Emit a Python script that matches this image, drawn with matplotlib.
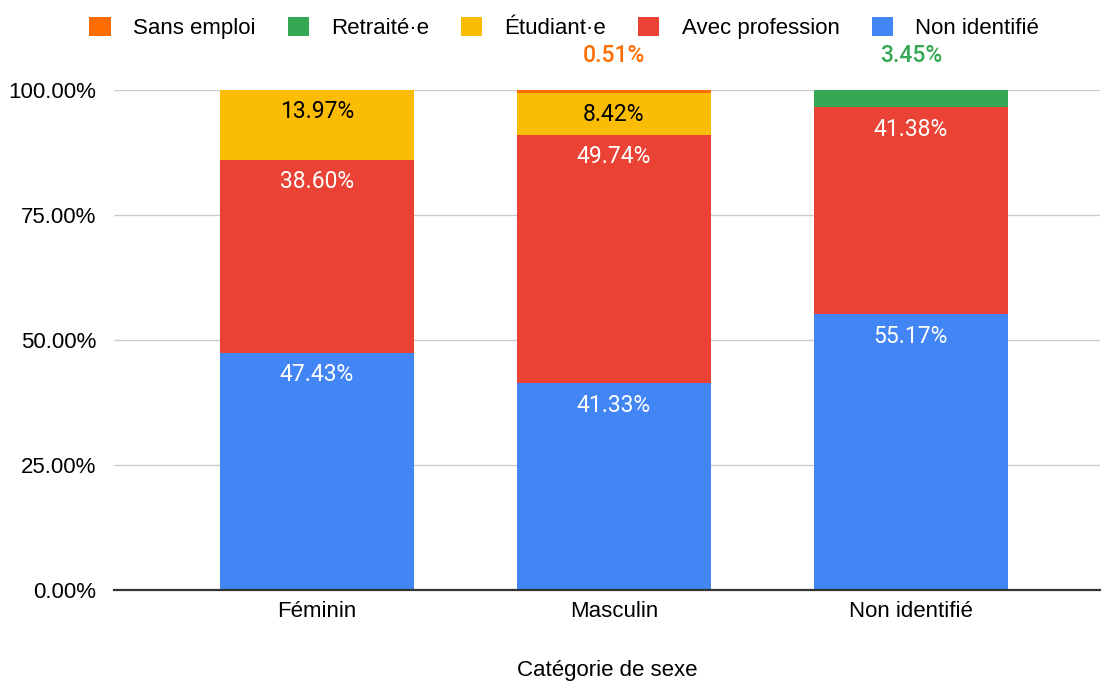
import numpy as np
import matplotlib.pyplot as plt
from matplotlib.patches import Patch

# Data (percent)
categories = ["Féminin", "Masculin", "Non identifié"]
non_identifie = [47.43, 41.33, 55.17]
avec_profession = [38.60, 49.74, 41.38]
etudiant = [13.97, 8.42, 0.0]
retraite = [0.0, 0.0, 3.45]
sans_emploi = [0.0, 0.51, 0.0]

series = [
    ("Non identifié", non_identifie, "#4285F4", "white"),
    ("Avec profession", avec_profession, "#EA4335", "white"),
    ("Étudiant·e", etudiant, "#FBBC04", "black"),
    ("Retraité·e", retraite, "#34A853", "black"),
    ("Sans emploi", sans_emploi, "#FF6D01", "black"),
]

plt.rcParams["font.family"] = ["Liberation Sans", "DejaVu Sans"]

fig = plt.figure(figsize=(11.02, 6.85), dpi=100)
ax = fig.add_axes([114 / 1102, 95 / 685, 986 / 1102, 500 / 685])

x = np.arange(len(categories))
width = 0.653
bottom = np.zeros(len(categories))
for name, vals, color, txtcol in series:
    vals = np.array(vals)
    ax.bar(x, vals, width, bottom=bottom, color=color, zorder=2)
    for i, v in enumerate(vals):
        if v <= 0:
            continue
        top = bottom[i] + v
        if v >= 5:
            ax.text(x[i], top - 4.4, f"{v:.2f}%", ha="center", va="center",
                    color=txtcol, fontsize=16.5, family=["Roboto", "DejaVu Sans"], zorder=3)
        else:
            ax.text(x[i], 107, f"{v:.2f}%", ha="center", va="center",
                    color=color, fontsize=16.5, family=["Roboto", "DejaVu Sans"],
                    fontweight="medium", clip_on=False)
    bottom += vals

ax.set_xlim(-0.683, 2.637)
ax.set_ylim(0, 100)
ax.set_yticks([0, 25, 50, 75, 100])
ax.set_yticklabels([f"{t:.2f}%" for t in [0, 25, 50, 75, 100]], fontsize=16)
ax.set_xticks(x)
ax.set_xticklabels(categories, fontsize=16)
ax.tick_params(axis="both", length=0)
ax.tick_params(axis="y", pad=13)
ax.tick_params(axis="x", pad=8)
for s in ax.spines.values():
    s.set_visible(False)
ax.yaxis.grid(True, color="#cccccc", linewidth=1, zorder=0)
ax.axhline(0, color="#333333", linewidth=1.6, zorder=4, clip_on=False)
ax.set_xlabel("Catégorie de sexe", fontsize=16, labelpad=27)

handles = [Patch(facecolor=c, edgecolor="none") for _, _, c, _ in series[::-1]]
labels = [n for n, _, _, _ in series[::-1]]
fig.legend(handles, labels, loc="upper center", bbox_to_anchor=(0.512, 1.005),
           ncol=5, frameon=False, fontsize=16, handlelength=0.95, handleheight=0.95,
           columnspacing=1.45, handletextpad=1.0)

fig.savefig("out.png", dpi=100)
